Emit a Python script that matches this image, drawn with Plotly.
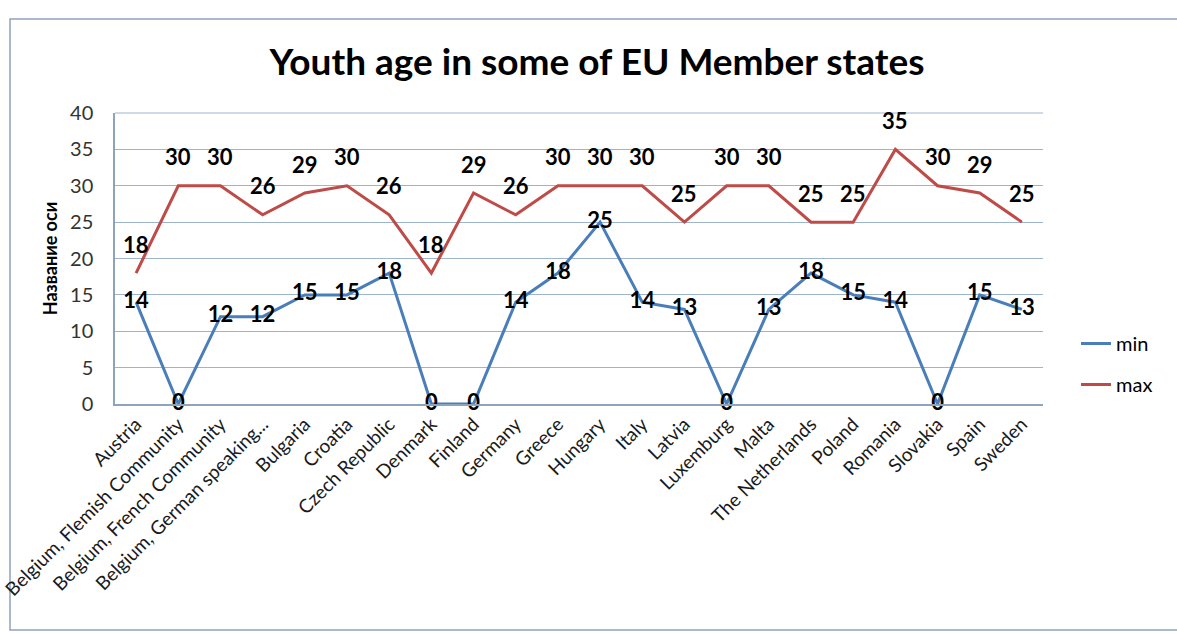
import plotly.graph_objects as go

categories = ["Austria", "Belgium, Flemish Community", "Belgium, French Community",
              "Belgium, German speaking...", "Bulgaria", "Croatia", "Czech Republic",
              "Denmark", "Finland", "Germany", "Greece", "Hungary", "Italy", "Latvia",
              "Luxemburg", "Malta", "The Netherlands", "Poland", "Romania", "Slovakia",
              "Spain", "Sweden"]
min_age = [14, 0, 12, 12, 15, 15, 18, 0, 0, 14, 18, 25, 14, 13, 0, 13, 18, 15, 14, 0, 15, 13]
max_age = [18, 30, 30, 26, 29, 30, 26, 18, 29, 26, 30, 30, 30, 25, 30, 30, 25, 25, 35, 30, 29, 25]

FONT = "Lato"
BLUE = "#4A7EBB"
RED = "#BE4B48"

fig = go.Figure()
fig.add_trace(go.Scatter(
    x=categories, y=min_age, name="min", mode="lines+text",
    line=dict(color=BLUE, width=3),
    text=[str(v) for v in min_age], textposition="middle center",
    textfont=dict(family=FONT, size=22, color="#000000", weight="bold"),
    legendgroup="a", cliponaxis=False,
))
fig.add_trace(go.Scatter(
    x=categories, y=max_age, name="max", mode="lines",
    line=dict(color=RED, width=3),
    legendgroup="b", cliponaxis=False,
))
for c, v in zip(categories, max_age):
    fig.add_annotation(x=c, y=v, text=str(v), showarrow=False, yshift=29,
                       font=dict(family=FONT, size=22, color="#000000", weight="bold"))

# outer chart frame
fig.add_shape(type="rect", xref="paper", yref="paper",
              x0=(10 - 115) / 928, x1=(1200 - 115) / 928,
              y0=(404 - 630) / 291, y1=(404 - 19) / 291,
              line=dict(color="#8EA4BC", width=1.5), layer="below")

fig.update_layout(
    width=1177, height=634,
    margin=dict(l=115, r=134, t=113, b=230),
    paper_bgcolor="white", plot_bgcolor="white",
    title=dict(text="<b>Youth age in some of EU Member states</b>",
               x=(597) / 1177, xanchor="center", y=1 - 62 / 634, yanchor="middle",
               font=dict(family=FONT, size=37, color="#000000")),
    font=dict(family=FONT, color="#404040"),
    showlegend=True,
    legend=dict(x=(1076 - 115) / 928, y=(404 - 324) / 291, xanchor="left", yanchor="top",
                font=dict(family=FONT, size=20, color="#000000"),
                tracegroupgap=12, bgcolor="rgba(0,0,0,0)"),
    xaxis=dict(
        type="category", tickangle=-45, automargin=False,
        tickfont=dict(family=FONT, size=19, color="#1a1a1a"),
        showgrid=False, showline=True, linecolor="#8EA4BC", linewidth=1.5,
        ticks="", range=[-0.5, 21.5],
    ),
    yaxis=dict(
        range=[0, 40], dtick=5, automargin=False,
        tickfont=dict(family=FONT, size=20, color="#333333"),
        showgrid=True, gridcolor="#9DB5CC", gridwidth=1.2,
        showline=True, linecolor="#8EA4BC", linewidth=1.5,
        ticks="", ticklabelstandoff=16, zeroline=False,
        title=dict(text="<b>Название оси</b>", standoff=8,
                   font=dict(family=FONT, size=18, color="#000000")),
    ),
)
fig.add_shape(type="line", xref="paper", yref="paper", x0=0, x1=1, y0=1, y1=1,
              line=dict(color="#9DB5CC", width=1.2))

fig.write_html("out.html")
